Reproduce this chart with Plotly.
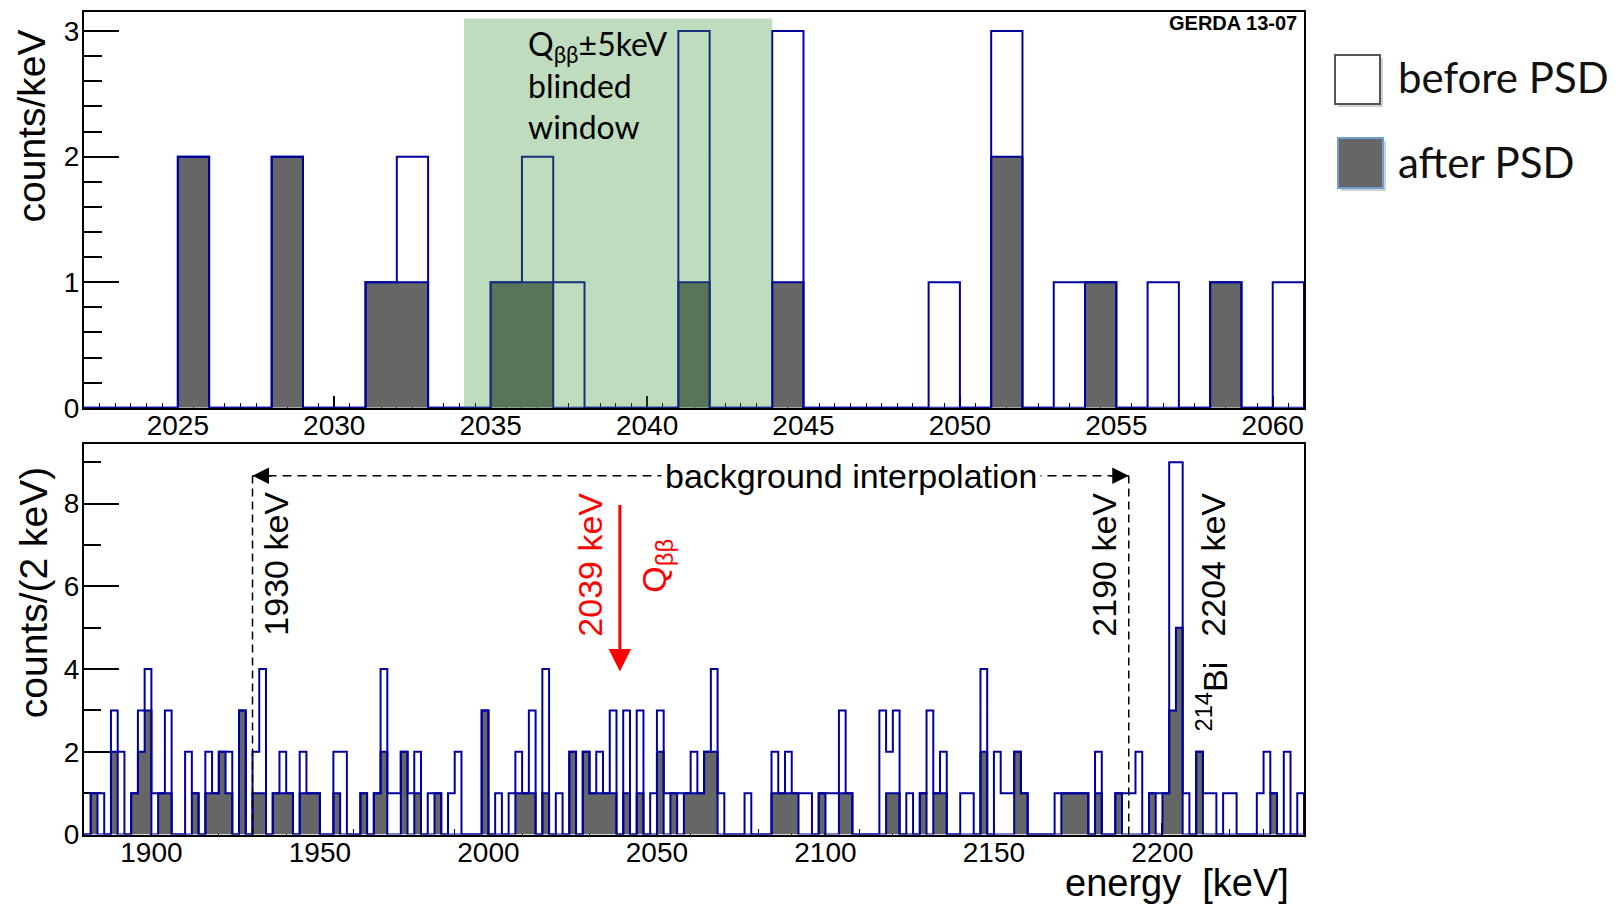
import numpy as np
import plotly.graph_objects as go

W, H = 1620, 904
# usable drawing height of the page (a strip at the bottom is taken by the viewport)
H_EFF = 888.5

# ---- upper panel: 1 keV bins around Q_bb ----
top_start, top_bin = 2022, 1
top_before = [0, 0, 0, 2, 0, 0, 2, 0, 0, 1,
              2, 0, 0, 1, 2, 1, 0, 0, 0, 3,
              0, 0, 3, 0, 0, 0, 0, 1, 0, 3,
              0, 1, 1, 0, 1, 0, 1, 0, 1]
top_after = [0, 0, 0, 2, 0, 0, 2, 0, 0, 1,
             1, 0, 0, 1, 1, 0, 0, 0, 0, 1,
             0, 0, 1, 0, 0, 0, 0, 0, 0, 2,
             0, 0, 1, 0, 0, 0, 1, 0, 0]

# ---- lower panel: 2 keV bins, 1880-2242 keV ----
bot_start, bot_bin = 1880, 2
bot_before = [0, 1, 1, 0, 3, 2, 0, 1, 3, 4,
              1, 1, 3, 0, 0, 2, 1, 0, 2, 1,
              2, 2, 0, 3, 0, 2, 4, 0, 1, 2,
              1, 0, 2, 1, 1, 0, 0, 2, 2, 0,
              0, 1, 0, 1, 4, 1, 1, 2, 1, 2,
              0, 1, 1, 0, 1, 2, 0, 0, 0, 3,
              0, 1, 0, 1, 2, 1, 3, 0, 4, 0,
              1, 0, 2, 0, 2, 1, 2, 1, 3, 0,
              3, 0, 3, 0, 1, 3, 1, 1, 1, 1,
              2, 1, 2, 4, 1, 0, 0, 0, 1, 0,
              0, 0, 2, 1, 2, 1, 1, 1, 0, 1,
              1, 1, 3, 1, 0, 0, 0, 0, 3, 2,
              3, 0, 1, 0, 1, 3, 1, 2, 0, 0,
              1, 1, 0, 4, 0, 2, 1, 1, 2, 1,
              0, 0, 0, 0, 1, 1, 1, 1, 1, 0,
              2, 0, 0, 1, 1, 1, 2, 0, 1, 1,
              1, 9, 9, 1, 0, 2, 1, 1, 0, 1,
              1, 0, 0, 0, 1, 2, 1, 0, 2, 0, 1]
bot_after = [0, 1, 0, 0, 2, 0, 0, 1, 2, 3,
             0, 1, 1, 0, 0, 0, 1, 0, 1, 1,
             2, 1, 0, 3, 0, 1, 1, 0, 1, 1,
             1, 0, 1, 1, 1, 0, 0, 1, 0, 0,
             0, 1, 0, 1, 2, 0, 0, 2, 0, 1,
             0, 0, 1, 0, 0, 0, 0, 0, 0, 3,
             0, 0, 0, 0, 1, 1, 1, 0, 1, 0,
             0, 0, 2, 0, 2, 1, 1, 1, 1, 0,
             1, 0, 1, 0, 0, 2, 0, 1, 0, 1,
             1, 1, 2, 2, 0, 0, 0, 0, 0, 0,
             0, 0, 1, 1, 1, 1, 0, 0, 0, 1,
             0, 0, 1, 1, 0, 0, 0, 0, 0, 1,
             1, 0, 0, 0, 1, 0, 1, 1, 0, 0,
             0, 0, 0, 2, 0, 0, 0, 0, 2, 1,
             0, 0, 0, 0, 0, 1, 1, 1, 1, 0,
             1, 0, 0, 1, 0, 0, 0, 0, 1, 0,
             1, 3, 5, 0, 0, 2, 0, 0, 0, 0,
             0, 0, 0, 0, 0, 0, 1, 0, 0, 0, 0]

q_bb = 2039
blind_window = (2034.15, 2044.0)
bkg_lo, bkg_hi = 1930, 2190
bkg_level = 8.67

NAVY = "#00009c"
GRAY = "#666666"
RED = "#ff0000"
ROOTFONT = "Liberation Sans"
SLIDEFONT = "Lato"


def steps(start, width, counts):
    counts = np.asarray(counts, dtype=float)
    edges = start + width * np.arange(len(counts) + 1)
    x = np.concatenate([edges, [edges[-1]]])
    y = np.concatenate([counts, [counts[-1], 0.0]])
    return x, y


def px(x):
    return x / W


def py(y):
    return 1 - y / H_EFF


fig = go.Figure()

for xa, ya, start, width, before, after in [
    ("x", "y", top_start, top_bin, top_before, top_after),
    ("x2", "y2", bot_start, bot_bin, bot_before, bot_after),
]:
    xs, ys = steps(start, width, after)
    fig.add_trace(go.Scatter(x=xs, y=ys, mode="lines", xaxis=xa, yaxis=ya,
                             line=dict(color=NAVY, width=2, shape="hv"),
                             fill="tozeroy", fillcolor=GRAY,
                             hoverinfo="skip", showlegend=False))
    xs, ys = steps(start, width, before)
    fig.add_trace(go.Scatter(x=xs, y=ys, mode="lines", xaxis=xa, yaxis=ya,
                             line=dict(color=NAVY, width=2, shape="hv"),
                             hoverinfo="skip", showlegend=False))

xdom = [px(84), px(1304)]
axis_common = dict(showline=True, linecolor="black", linewidth=2, mirror=True,
                   showgrid=False, zeroline=False, ticks="inside",
                   tickcolor="black", tickwidth=1.5, layer="below traces",
                   tickfont=dict(family=ROOTFONT, size=28, color="black"))

fig.update_layout(
    width=W, height=H, margin=dict(l=0, r=0, t=0, b=0),
    paper_bgcolor="white", plot_bgcolor="white", showlegend=False,
    xaxis=dict(domain=xdom, anchor="y", range=[2022, 2061],
               tickmode="linear", tick0=2025, dtick=5, ticklen=12,
               ticklabelstandoff=-8,
               minor=dict(dtick=0.5, ticklen=5, ticks="inside",
                          tickcolor="black", tickwidth=1),
               **axis_common),
    yaxis=dict(domain=[py(408), py(12.3)], anchor="x", range=[0, 3.15],
               tickmode="linear", tick0=0, dtick=1, ticklen=35,
               ticklabelstandoff=-3,
               minor=dict(dtick=0.2, ticklen=18, ticks="inside",
                          tickcolor="black", tickwidth=1.5),
               **axis_common),
    xaxis2=dict(domain=xdom, anchor="y2", range=[1880, 2242],
                tickmode="linear", tick0=1900, dtick=50, ticklen=12,
                ticklabelstandoff=-8,
                minor=dict(dtick=10, ticklen=6, ticks="inside",
                           tickcolor="black", tickwidth=1),
                **axis_common),
    yaxis2=dict(domain=[py(835), py(443.8)], anchor="x2", range=[0, 9.45],
                tickmode="linear", tick0=0, dtick=2, ticklen=35,
                ticklabelstandoff=-3,
                minor=dict(dtick=1, ticklen=17, ticks="inside",
                           tickcolor="black", tickwidth=1.5),
                **axis_common),
)

shapes = [
    # blinded window band
    dict(type="rect", xref="x", yref="y", x0=blind_window[0], x1=blind_window[1],
         y0=0, y1=3.1, fillcolor="rgba(60,150,60,0.33)", line=dict(width=0),
         layer="above"),
    # background window
    dict(type="line", xref="x2", yref="y2", x0=bkg_lo, x1=bkg_lo, y0=0, y1=bkg_level,
         line=dict(color="black", width=1.5, dash="8px,5px"), layer="above"),
    dict(type="line", xref="x2", yref="y2", x0=bkg_hi, x1=bkg_hi, y0=0, y1=bkg_level,
         line=dict(color="black", width=1.5, dash="8px,5px"), layer="above"),
    dict(type="line", xref="x2", yref="y2", x0=bkg_lo, x1=bkg_hi,
         y0=bkg_level, y1=bkg_level,
         line=dict(color="black", width=1.5, dash="9px,6px"), layer="above"),
    # legend swatches (with soft drop shadow)
    dict(type="rect", xref="paper", yref="paper", x0=px(1338), x1=px(1383),
         y0=py(107), y1=py(58), fillcolor="rgba(0,0,0,0.18)", line=dict(width=0)),
    dict(type="rect", xref="paper", yref="paper", x0=px(1335), x1=px(1380),
         y0=py(104), y1=py(55), fillcolor="white",
         line=dict(color="#555555", width=2)),
    dict(type="rect", xref="paper", yref="paper", x0=px(1341), x1=px(1386),
         y0=py(191), y1=py(141), fillcolor="rgba(0,0,0,0.18)", line=dict(width=0)),
    dict(type="rect", xref="paper", yref="paper", x0=px(1338), x1=px(1383),
         y0=py(188), y1=py(138), fillcolor=GRAY,
         line=dict(color="#6f9fd2", width=2)),
]
fig.update_layout(shapes=shapes)

ann = []


def text(t, x, y, size, color="black", family=ROOTFONT, angle=0,
         xanchor="center", yanchor="middle", **kw):
    ann.append(dict(text=t, x=px(x), y=py(y), xref="paper", yref="paper",
                    showarrow=False, textangle=angle, xanchor=xanchor,
                    yanchor=yanchor, font=dict(family=family, size=size, color=color),
                    **kw))


# axis titles
text("counts/keV", 31, 28, 39, angle=-90, yanchor="top")
text("counts/(2 keV)", 33, 466, 39, angle=-90, yanchor="top")
text("energy \u00a0[keV]", 1291, 883, 38, xanchor="right")

# experiment tag
text("<b>GERDA 13-07</b>", 1299, 23, 20, xanchor="right")

# blinded window label
text("Q<sub>ββ</sub>±5keV<br>blinded<br>window", 526, 85, 32,
     family=SLIDEFONT, xanchor="left", align="left")

# legend labels
text("before PSD", 1396, 77, 42, color="#111111", family=SLIDEFONT, xanchor="left")
text("after PSD", 1396, 162, 42, color="#111111", family=SLIDEFONT, xanchor="left")

# lower panel labels
text("1930 keV", 276, 564, 34, angle=-90)
text("2039 keV", 590, 565, 34, color=RED, angle=-90)
text("Q<sub>ββ</sub>", 657, 566, 34, color=RED, angle=-90)
text("2190 keV", 1104, 565, 34, angle=-90)
text("2204 keV", 1213, 565, 34, angle=-90)
text("<sup>214</sup>Bi", 1212, 697, 34, angle=-90)

ann.append(dict(text="background interpolation", x=px(851), y=bkg_level,
                xref="paper", yref="y2", showarrow=False, bgcolor="white",
                borderpad=3, font=dict(family=ROOTFONT, size=34, color="black")))

# arrow heads of the background window
for tip, tail in [(bkg_lo, bkg_lo + 6), (bkg_hi, bkg_hi - 6)]:
    ann.append(dict(text="", x=tip, y=bkg_level, ax=tail, ay=bkg_level,
                    xref="x2", yref="y2", axref="x2", ayref="y2",
                    showarrow=True, arrowhead=2, arrowsize=2.2, arrowwidth=1.5,
                    arrowcolor="black"))

# Q_bb arrow
ann.append(dict(text="", x=q_bb, y=3.94, ax=q_bb, ay=8.0,
                xref="x2", yref="y2", axref="x2", ayref="y2",
                showarrow=True, arrowhead=2, arrowsize=1.5, arrowwidth=3,
                arrowcolor=RED))

fig.update_layout(annotations=ann)

fig.write_html("out.html")
